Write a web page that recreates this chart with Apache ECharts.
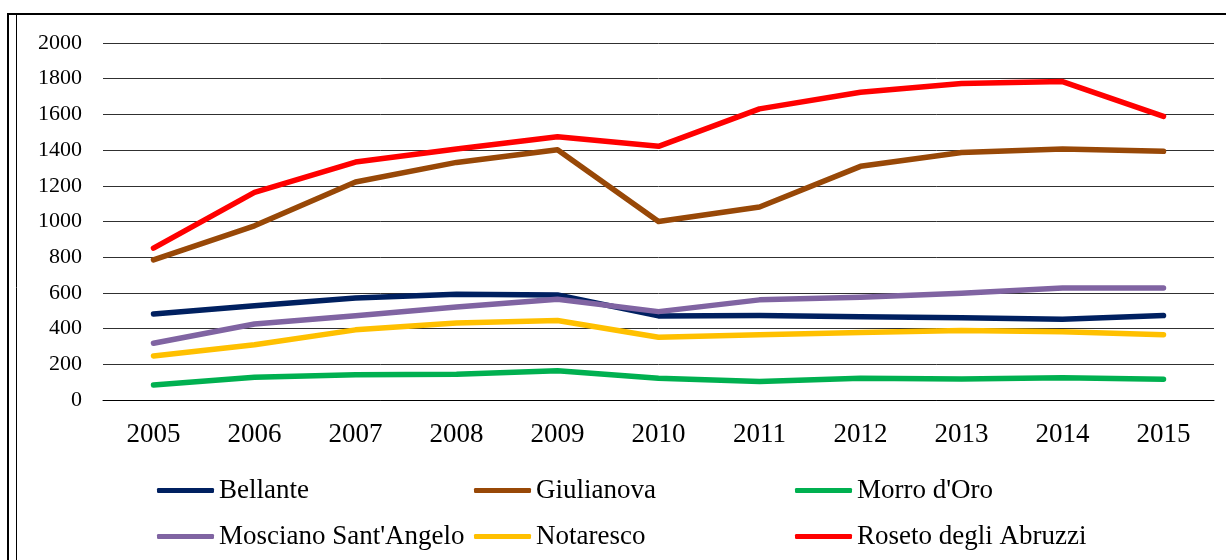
<!DOCTYPE html>
<html>
<head>
<meta charset="utf-8">
<script src="https://cdn.jsdelivr.net/npm/echarts@6/dist/echarts.min.js"></script>
<style>
html,body{margin:0;padding:0;background:#fff;}
#c{width:1226px;height:560px;}
</style>
</head>
<body>
<div id="c"></div>
<script>
const years = ['2005','2006','2007','2008','2009','2010','2011','2012','2013','2014','2015'];
const bellante = [482, 528, 572, 592, 588, 471, 474, 467, 461, 453, 473];
const giulianova = [785, 976, 1221, 1331, 1402, 1000, 1081, 1309, 1387, 1406, 1393];
const morroDOro = [84, 127, 142, 144, 164, 122, 103, 122, 118, 125, 116];
const mosciano = [318, 426, 472, 521, 565, 495, 561, 576, 598, 627, 628];
const notaresco = [247, 309, 393, 432, 445, 352, 365, 378, 389, 383, 366];
const roseto = [851, 1163, 1333, 1406, 1475, 1421, 1631, 1724, 1773, 1784, 1589];

const names = ['Bellante','Giulianova',"Morro d'Oro","Mosciano Sant'Angelo",'Notaresco','Roseto degli Abruzzi'];
const colors = ['#002060','#984807','#00B050','#8064A2','#FFC000','#FF0000'];
const values = [bellante, giulianova, morroDOro, mosciano, notaresco, roseto];

const font = 'Liberation Serif, Times New Roman, serif';
const legendPos = [[157,477],[474,477],[795,477],[157,523],[474,523],[795,523]];

const chart = echarts.init(document.getElementById('c'));
chart.setOption({
  animation: false,
  backgroundColor: '#fff',
  textStyle: {fontFamily: font},
  grid: {left: 103, right: 12, top: 43, bottom: 160, containLabel: false},
  xAxis: {
    type: 'category',
    data: years,
    boundaryGap: true,
    axisLine: {show: true, lineStyle: {color: '#000', width: 1}},
    axisTick: {show: false},
    axisLabel: {color: '#000', fontSize: 27, fontFamily: font, margin: 21}
  },
  yAxis: {
    type: 'value',
    min: 0, max: 2000, interval: 200,
    axisLine: {show: false},
    axisTick: {show: false},
    axisLabel: {color: '#000', fontSize: 22, fontFamily: font, margin: 21, formatter: v => String(v)},
    splitLine: {show: true, lineStyle: {color: '#303030', width: 1}}
  },
  legend: names.map((n, i) => ({
    data: [n],
    left: legendPos[i][0],
    top: legendPos[i][1],
    padding: 0,
    icon: 'roundRect',
    itemWidth: 57,
    itemHeight: 5,
    itemGap: 0,
    textStyle: {color: '#000', fontSize: 27, fontFamily: font}
  })),
  graphic: [
    {type: 'line', shape: {x1: 8, y1: 14, x2: 1226, y2: 14}, style: {stroke: '#000', lineWidth: 2}, silent: true},
    {type: 'line', shape: {x1: 8, y1: 13, x2: 8, y2: 560}, style: {stroke: '#000', lineWidth: 2}, silent: true},
    {type: 'line', shape: {x1: 16.5, y1: 15, x2: 16.5, y2: 560}, style: {stroke: '#000', lineWidth: 1}, silent: true}
  ],
  series: names.map((n, i) => ({
    name: n,
    type: 'line',
    data: values[i],
    symbol: 'none',
    showSymbol: false,
    color: colors[i],
    lineStyle: {color: colors[i], width: 5.5, cap: 'round', join: 'round'},
    itemStyle: {color: colors[i]}
  }))
});
</script>
</body>
</html>
